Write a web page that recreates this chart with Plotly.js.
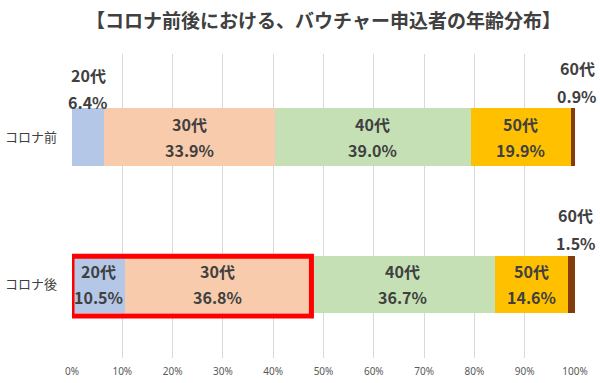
<!DOCTYPE html>
<html><head><meta charset="utf-8">
<script src="https://cdn.plot.ly/plotly-3.0.1.min.js"></script>
<style>html,body{margin:0;padding:0;background:#fff}#chart{width:600px;height:383px}</style>
</head><body><div id="chart"></div>
<script>
const chartTitle = '【コロナ前後における、バウチャー申込者の年齢分布】';
const periods = ['コロナ前', 'コロナ後'];
const ageGroups = ['20代', '30代', '40代', '50代', '60代'];
const beforeValues = [6.4, 33.9, 39.0, 19.9, 0.9];
const afterValues = [10.5, 36.8, 36.7, 14.6, 1.5];
const tickValues = [0, 10, 20, 30, 40, 50, 60, 70, 80, 90, 100];
const tickLabels = ['0%', '10%', '20%', '30%', '40%', '50%', '60%', '70%', '80%', '90%', '100%'];
const highlightPeriod = 'コロナ後';
const highlightGroups = ['20代', '30代'];

const colors = ['#B4C7E7', '#F8CBAD', '#C5E0B4', '#FFC000', '#843C0C'];
const textColor = '#404040';
const cjk = '"Noto Sans CJK JP", "Noto Sans", sans-serif';

const seriesByPeriod = [beforeValues, afterValues];

const traces = ageGroups.map((g, i) => ({
  type: 'bar',
  orientation: 'h',
  name: g,
  y: periods,
  x: seriesByPeriod.map(s => s[i]),
  marker: {color: colors[i], line: {width: 0}},
  width: 0.39,
  hoverinfo: 'skip',
  showlegend: false
}));

const annotations = [];
const labelFont = {family: cjk, size: 16, color: textColor, weight: 'bold'};
seriesByPeriod.forEach((vals, pi) => {
  let cum = 0;
  vals.forEach((v, gi) => {
    const mid = cum + v / 2;
    cum += v;
    const small = v < 8;
    const isLast = gi === vals.length - 1;
    const upper = small ? (isLast ? -69 : -62) : -13;
    const lower = small ? (isLast ? -41 : -35) : 13;
    const xs = small && isLast ? 4 : 0;
    annotations.push({x: mid, y: periods[pi], xref: 'x', yref: 'y', text: ageGroups[gi],
      showarrow: false, yshift: -upper, xshift: xs, font: labelFont});
    annotations.push({x: mid, y: periods[pi], xref: 'x', yref: 'y', text: v.toFixed(1) + '%',
      showarrow: false, yshift: -lower, xshift: xs, font: labelFont});
  });
});

const hpIndex = periods.indexOf(highlightPeriod);
const hVals = seriesByPeriod[hpIndex];
const hEnd = highlightGroups.reduce((a, g) => a + hVals[ageGroups.indexOf(g)], 0);

const layout = {
  width: 600, height: 383,
  margin: {l: 72, r: 25, t: 54, b: 25},
  paper_bgcolor: '#fff', plot_bgcolor: '#fff',
  barmode: 'stack',
  title: {text: chartTitle, x: 0.5, xref: 'paper', xanchor: 'center', y: 1, yref: 'container', yanchor: 'top', pad: {t: 15},
    font: {family: cjk, size: 19, color: textColor, weight: 'bold'}},
  xaxis: {range: [0, 100], tickvals: tickValues, ticktext: tickLabels, showgrid: true, gridcolor: '#D9D9D9', gridwidth: 1,
    zeroline: false, showline: false, ticks: '', ticklen: 0, ticklabelstandoff: 6,
    tickfont: {family: '"Noto Sans", sans-serif', size: 10, color: '#595959'}, fixedrange: true},
  yaxis: {type: 'category', categoryorder: 'array', categoryarray: periods, autorange: 'reversed', range: [1.5, -0.5],
    showgrid: false, zeroline: false, showline: false, ticks: '', ticklabelstandoff: 14,
    tickfont: {family: cjk, size: 13, color: textColor}},
  annotations: annotations,
  shapes: [{type: 'rect', xref: 'x', yref: 'y', x0: 0, x1: hEnd + 0.3, y0: hpIndex - 0.19, y1: hpIndex + 0.215,
    line: {color: '#FF0000', width: 5}, fillcolor: 'rgba(0,0,0,0)', layer: 'above'}]
};

Plotly.newPlot('chart', traces, layout, {displayModeBar: false, staticPlot: true});
</script></body></html>
